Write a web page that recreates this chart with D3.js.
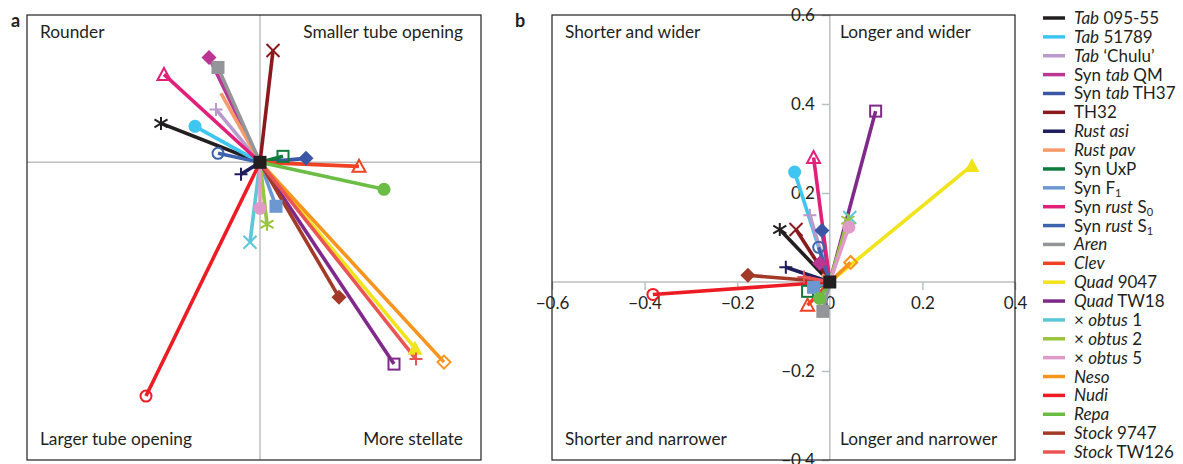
<!DOCTYPE html>
<html><head><meta charset="utf-8">
<script src="https://cdn.jsdelivr.net/npm/d3@7"></script>
<style>body{margin:0;background:#fff} svg text{font-family:Lato,"Open Sans",sans-serif;fill:#231f20}</style>
</head><body>
<svg id="c" width="1183" height="464"></svg>
<script>
// ---- DATA ----
const seriesLabels = ["<i>Tab</i> 095-55","<i>Tab</i> 51789","<i>Tab</i> ‘Chulu’","Syn <i>tab</i> QM","Syn <i>tab</i> TH37","TH32","<i>Rust asi</i>","<i>Rust pav</i>","Syn UxP","Syn F<sub>1</sub>","Syn <i>rust</i> S<sub>0</sub>","Syn <i>rust</i> S<sub>1</sub>","<i>Aren</i>","<i>Clev</i>","<i>Quad</i> 9047","<i>Quad</i> TW18","× <i>obtus</i> 1","× <i>obtus</i> 2","× <i>obtus</i> 5","<i>Neso</i>","<i>Nudi</i>","<i>Repa</i>","<i>Stock</i> 9747","<i>Stock</i> TW126"];
const seriesColors = ["#231f20","#3ec6f0","#b89bcc","#bb3593","#3a56a5","#8b1a1e","#1f1d5c","#f79a6a","#0e7a3c","#6d97d0","#e2207a","#3d62ae","#939598","#ef4123","#f2e41a","#7f2a8a","#5bc8d8","#9ac43c","#e09ac8","#f7941d","#ed1c24","#6bbd45","#a33a27","#ea5455"];
const seriesSymbols = ["asterisk","circleF","plus","diamondF","diamondF","cross","plus","none","squareO","squareF","triangleO","circleO","squareF","triangleO","triangleF","squareO","cross","asterisk","circleF","diamondO","circleO","circleF","diamondF","plus"];
// panel a (shape space, arbitrary units)
const aX = [-0.99,-0.65,-0.44,-0.51,0.46,0.13,-0.19,-0.39,0.23,0.16,-0.96,-0.42,-0.42,0.99,1.55,1.34,-0.10,0.07,0.00,1.84,-1.14,1.24,0.79,1.56];
const aY = [0.39,0.36,0.53,1.05,0.04,1.12,-0.12,0.69,0.06,-0.44,0.88,0.09,0.95,-0.04,-1.86,-2.02,-0.80,-0.62,-0.46,-2.00,-2.34,-0.27,-1.35,-1.97];
// panel b
const bX = [-0.108,-0.076,-0.043,-0.022,-0.017,-0.073,-0.095,-0.017,-0.048,-0.035,-0.035,-0.024,-0.015,-0.048,0.307,0.099,0.043,0.039,0.041,0.045,-0.382,-0.022,-0.177,-0.056];
const bY = [0.118,0.247,0.150,0.042,0.116,0.118,0.033,0.017,-0.021,-0.012,0.280,0.078,-0.066,-0.052,0.262,0.384,0.145,0.139,0.123,0.044,-0.028,-0.037,0.015,0.011];
const bTicksX = [-0.6,-0.4,-0.2,0,0.2,0.4];
const bTicksY = [-0.4,-0.2,0,0.2,0.4,0.6];
const quadA = ["Rounder","Smaller tube opening","Larger tube opening","More stellate"];
const quadB = ["Shorter and wider","Longer and wider","Shorter and narrower","Longer and narrower"];

// ---- DRAW ----
const svg = d3.select("#c");
const gray = "#bcbec0";

function drawSymbol(g, type, color, x, y) {
  const r = 6.5;
  const s = g.append("g").attr("transform", `translate(${x},${y})`);
  const lineAttr = sel => sel.attr("stroke", color).attr("stroke-width", 2).attr("fill","none");
  switch (type) {
    case "circleF": s.append("circle").attr("r", r).attr("fill", color); break;
    case "circleO": s.append("circle").attr("r", r-1).call(lineAttr); break;
    case "squareF": s.append("rect").attr("x",-r).attr("y",-r).attr("width",2*r).attr("height",2*r).attr("fill",color); break;
    case "squareO": s.append("rect").attr("x",-r+1).attr("y",-r+1).attr("width",2*r-2).attr("height",2*r-2).call(lineAttr); break;
    case "diamondF": s.append("path").attr("d",`M0,${-r-1}L${r+1},0L0,${r+1}L${-r-1},0Z`).attr("fill",color); break;
    case "diamondO": s.append("path").attr("d",`M0,${-r}L${r},0L0,${r}L${-r},0Z`).call(lineAttr); break;
    case "triangleF": s.append("path").attr("d",`M0,${-r-1}L${r+1},${r}L${-r-1},${r}Z`).attr("fill",color); break;
    case "triangleO": s.append("path").attr("d",`M0,${-r}L${r},${r-1}L${-r},${r-1}Z`).call(lineAttr); break;
    case "plus": s.append("path").attr("d",`M${-r},0H${r}M0,${-r}V${r}`).call(lineAttr); break;
    case "cross": s.append("path").attr("d",`M${-r},${-r}L${r},${r}M${-r},${r}L${r},${-r}`).call(lineAttr); break;
    case "asterisk": s.append("path").attr("d",`M${-r},${-r*0.6}L${r},${r*0.6}M${-r},${r*0.6}L${r},${-r*0.6}M0,${-r}V${r}`).call(lineAttr); break;
  }
}

function panel(xs, ys, xv, yv) {
  const g = svg.append("g");
  const x0 = xs(0), y0 = ys(0);
  xv.forEach((d, i) => {
    g.append("line").attr("x1", x0).attr("y1", y0).attr("x2", xs(d)).attr("y2", ys(yv[i]))
      .attr("stroke", seriesColors[i]).attr("stroke-width", 3.6).attr("stroke-linecap","butt");
  });
  xv.forEach((d, i) => drawSymbol(g, seriesSymbols[i], seriesColors[i], xs(d), ys(yv[i])));
  g.append("rect").attr("x", x0-6.5).attr("y", y0-6.5).attr("width", 13).attr("height", 13).attr("fill", "#231f20");
}

// Panel a
const xA = d3.scaleLinear().domain([-2.33, 2.21]).range([27, 481]);
const yA = d3.scaleLinear().domain([-2.98, 1.475]).range([460, 15]);
svg.append("line").attr("x1", xA(0)).attr("x2", xA(0)).attr("y1", 15).attr("y2", 460).attr("stroke", gray).attr("stroke-width", 1.5);
svg.append("line").attr("x1", 27).attr("x2", 481).attr("y1", yA(0)).attr("y2", yA(0)).attr("stroke", gray).attr("stroke-width", 1.5);
panel(xA, yA, aX, aY);
svg.append("rect").attr("x", 27).attr("y", 15).attr("width", 454).attr("height", 445).attr("fill","none").attr("stroke","#231f20").attr("stroke-width",1.2);
svg.append("text").attr("x", 11).attr("y", 27).style("font-weight","bold").style("font-size","18px").text("a");
const qf = "17.3px";
svg.append("text").attr("x", 40).attr("y", 38).style("font-size",qf).text(quadA[0]);
svg.append("text").attr("x", 463).attr("y", 38).attr("text-anchor","end").style("font-size",qf).text(quadA[1]);
svg.append("text").attr("x", 40).attr("y", 445).style("font-size",qf).text(quadA[2]);
svg.append("text").attr("x", 463).attr("y", 445).attr("text-anchor","end").style("font-size",qf).text(quadA[3]);

// Panel b
const xB = d3.scaleLinear().domain([-0.6, 0.4]).range([552, 1015]);
const yB = d3.scaleLinear().domain([-0.4, 0.6]).range([460, 15]);
svg.append("line").attr("x1", xB(0)).attr("x2", xB(0)).attr("y1", 15).attr("y2", 460).attr("stroke", gray).attr("stroke-width", 1.5);
svg.append("line").attr("x1", 552).attr("x2", 1015).attr("y1", yB(0)).attr("y2", yB(0)).attr("stroke", gray).attr("stroke-width", 1.5);
const fmt = d => d === 0 ? "0" : d3.format(".1f")(d);
const ax = svg.append("g").attr("transform", `translate(0,${yB(0)})`)
  .call(d3.axisBottom(xB).tickValues(bTicksX).tickFormat(fmt).tickSize(8).tickSizeOuter(0).tickPadding(7));
const ay = svg.append("g").attr("transform", `translate(${xB(0)},0)`)
  .call(d3.axisLeft(yB).tickValues(bTicksY).tickFormat(fmt).tickSize(8).tickSizeOuter(0).tickPadding(7));
[ax, ay].forEach(a => {
  a.select(".domain").remove();
  a.selectAll("line").attr("stroke", gray).attr("stroke-width", 1.5);
  a.selectAll("text").style("font-size","17px").style("font-family","Lato,sans-serif").attr("fill","#231f20");
});
panel(xB, yB, bX, bY);
svg.append("rect").attr("x", 552).attr("y", 15).attr("width", 463).attr("height", 445).attr("fill","none").attr("stroke","#231f20").attr("stroke-width",1.2);
svg.append("text").attr("x", 515).attr("y", 27).style("font-weight","bold").style("font-size","18px").text("b");
svg.append("text").attr("x", 565).attr("y", 38).style("font-size",qf).text(quadB[0]);
svg.append("text").attr("x", 840).attr("y", 38).style("font-size",qf).text(quadB[1]);
svg.append("text").attr("x", 565).attr("y", 445).style("font-size",qf).text(quadB[2]);
svg.append("text").attr("x", 840).attr("y", 445).style("font-size",qf).text(quadB[3]);

// Legend
const lg = svg.append("g");
seriesLabels.forEach((lab, i) => {
  const y = 18 + i * 18.87;
  lg.append("line").attr("x1", 1043).attr("x2", 1065).attr("y1", y).attr("y2", y).attr("stroke", seriesColors[i]).attr("stroke-width", 3.5);
  const t = lg.append("text").attr("x", 1074).attr("y", y + 6).style("font-size","17px");
  const parts = lab.split(/(<i>.*?<\/i>|<sub>.*?<\/sub>)/).filter(p => p.length);
  parts.forEach(p => {
    if (p.startsWith("<i>")) t.append("tspan").style("font-style","italic").text(p.replace(/<\/?i>/g,""));
    else if (p.startsWith("<sub>")) t.append("tspan").attr("dy", 3).style("font-size","11px").text(p.replace(/<\/?sub>/g,""));
    else t.append("tspan").text(p);
  });
});
</script>
</body></html>
